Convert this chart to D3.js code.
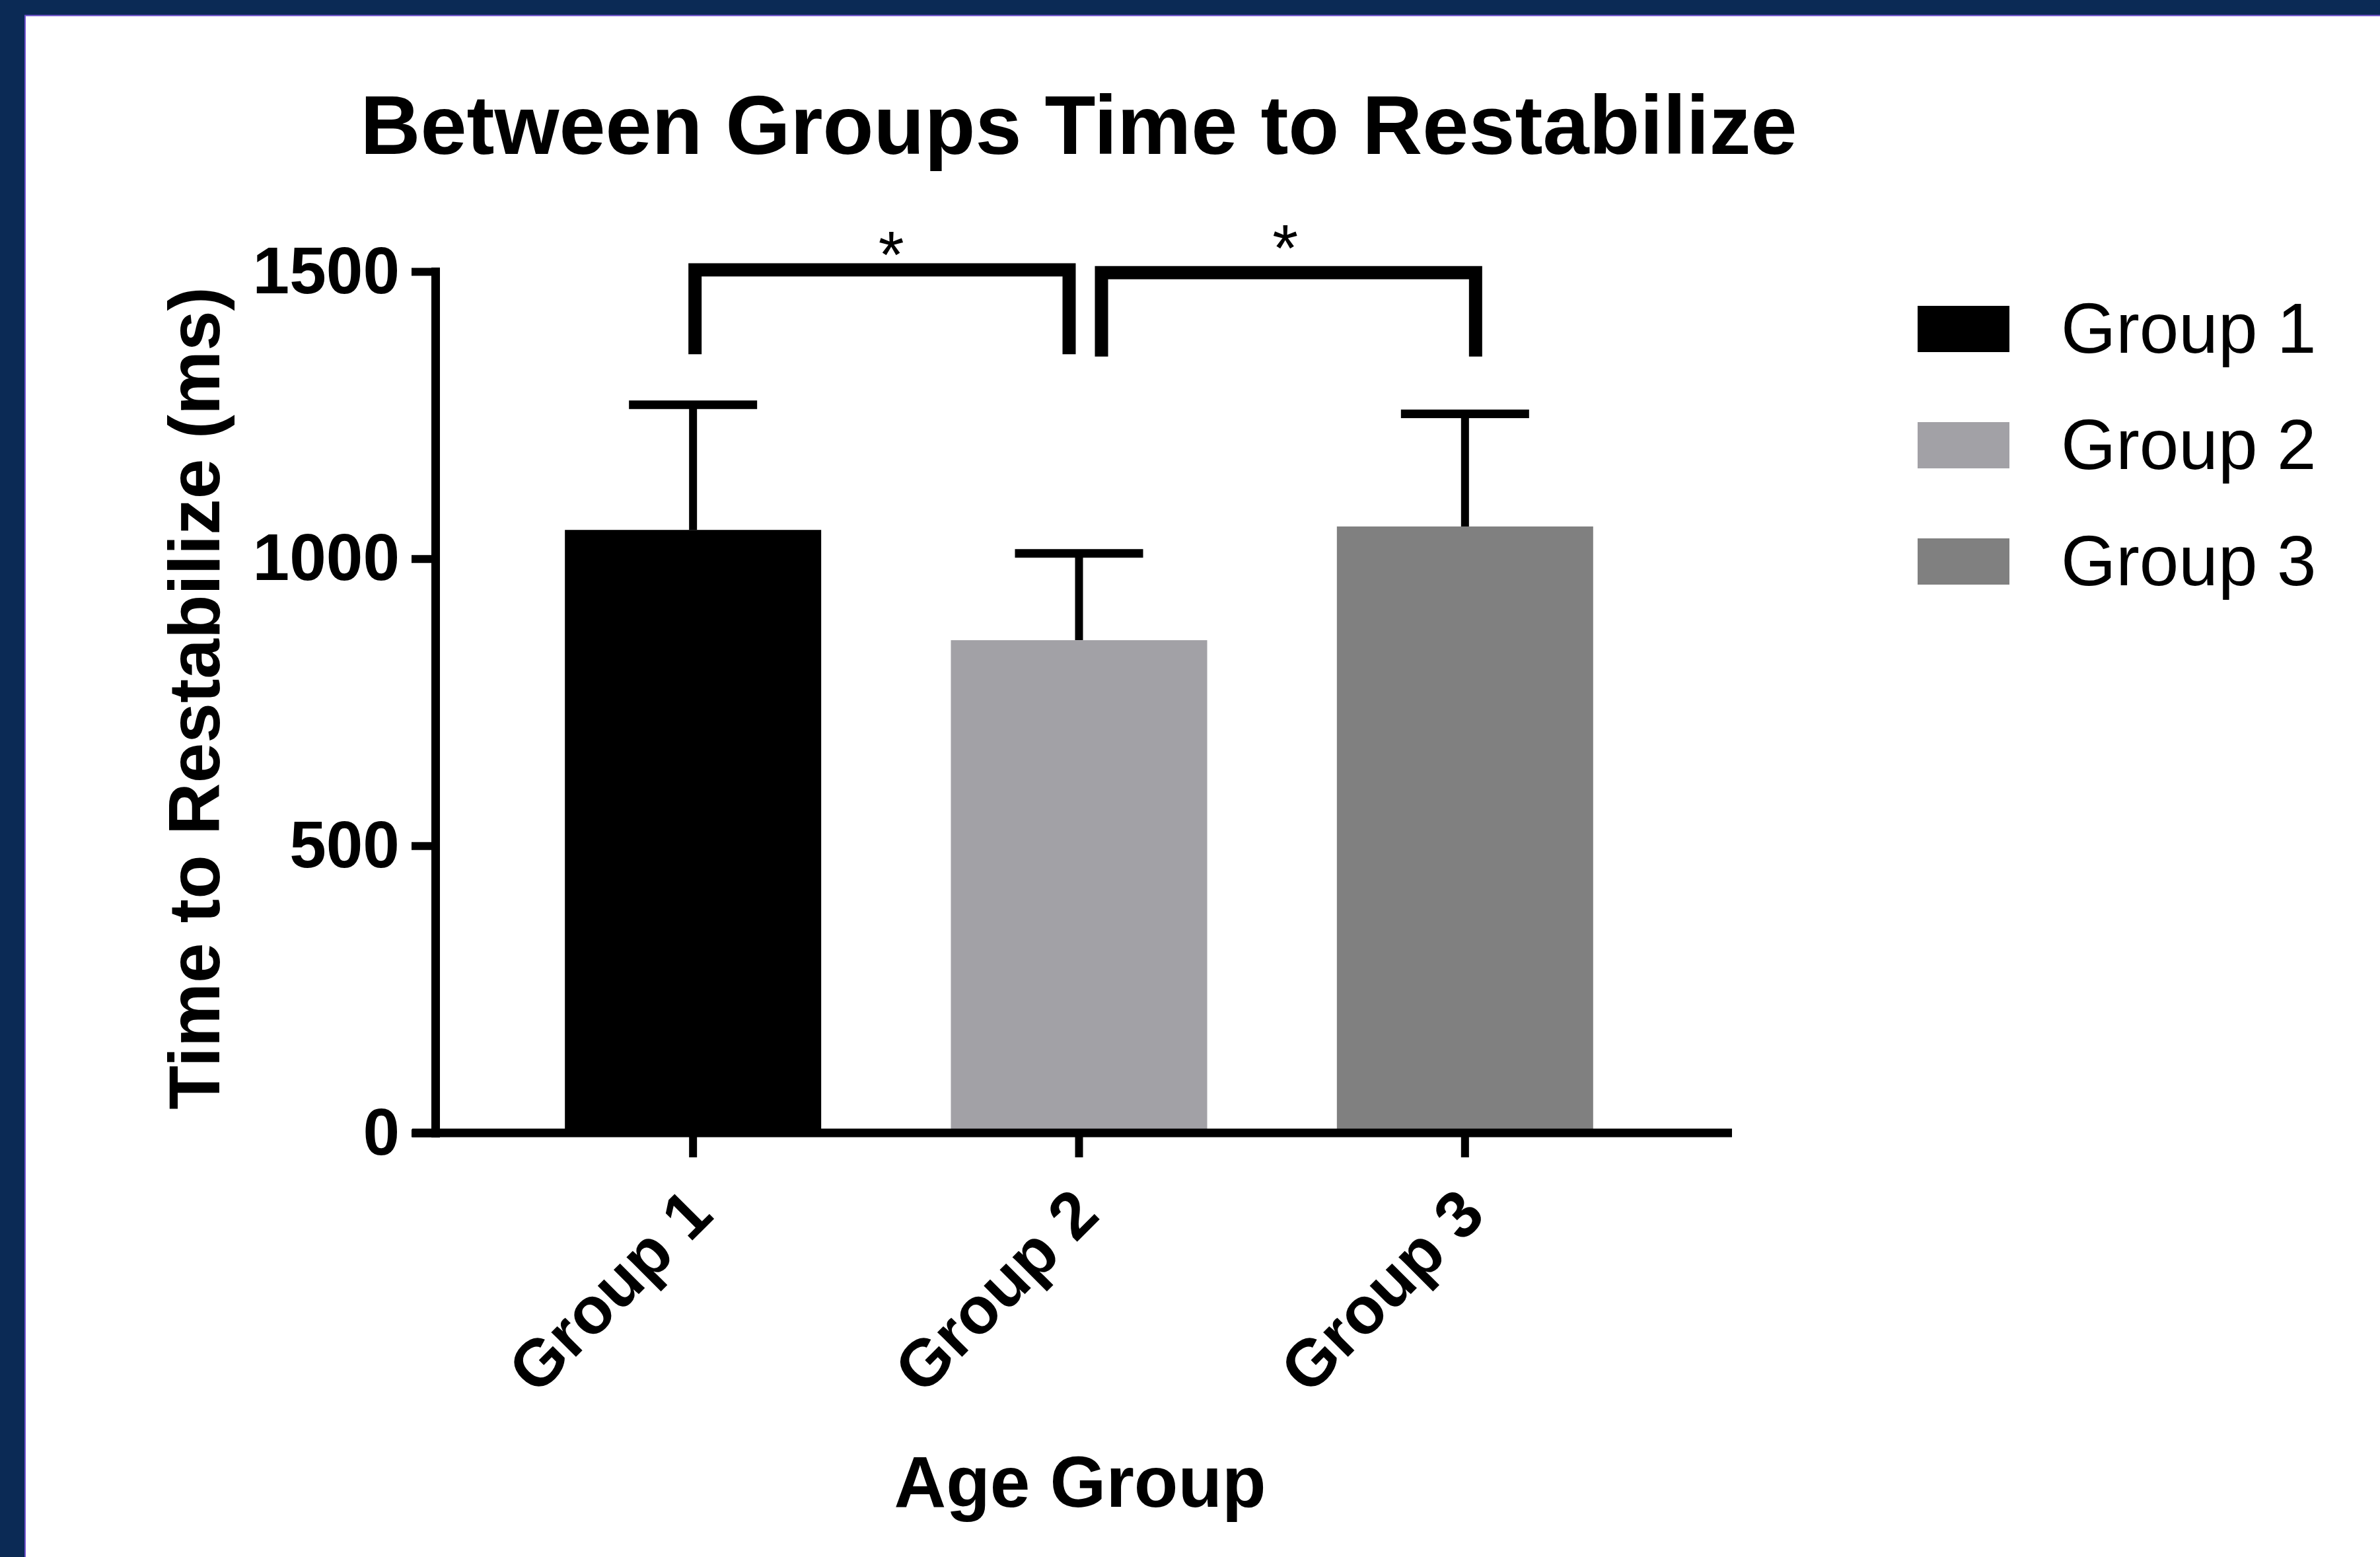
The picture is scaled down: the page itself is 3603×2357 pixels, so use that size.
<!DOCTYPE html>
<html>
<head>
<meta charset="utf-8">
<title>Between Groups Time to Restabilize</title>
<script src="https://cdn.jsdelivr.net/npm/d3@7"></script>
<style>
  body { margin: 0; background: #fff; }
  svg { display: block; font-family: "Liberation Sans", Arial, Helvetica, sans-serif; }
</style>
</head>
<body>
<svg id="chart" width="3603" height="2357"></svg>
<script>
'use strict';

// values
const groups = ["Group 1", "Group 2", "Group 3"];
const means = [1050, 858, 1056];
const errors = [218, 151, 196];
const barColors = ["#000000", "#a2a1a6", "#808080"];
const yTicks = [0, 500, 1000, 1500];
const comparisons = [
    ["Group 1", "Group 2", "*"],
    ["Group 2", "Group 3", "*"]
];

let svg = d3.select("#chart");
let width = +svg.attr("width"),
    height = +svg.attr("height");

// frame
svg.append("rect").attr("width", width).attr("height", height).attr("fill", "#0b2a55");
svg.append("rect").attr("x", 38).attr("y", 23).attr("width", width - 38).attr("height", height - 23).attr("fill", "#fff");
svg.append("path")
    .attr("d", "M38," + height + "V23.5H" + width)
    .attr("fill", "none")
    .attr("stroke", "#7050d0")
    .attr("stroke-width", 2);

let data = groups.map(function(g, i) {
    return { group: g, mean: means[i], err: errors[i], color: barColors[i] };
});

let x = d3.scaleBand()
    .domain(groups)
    .range([757, 2510])
    .paddingInner(0.336)
    .paddingOuter(0.168);

let y = d3.scaleLinear()
    .domain([0, 1500])
    .range([1715, 411]);

let cx = function(g) { return x(g) + x.bandwidth() / 2; };

// bars
svg.append("g")
    .selectAll("rect")
    .data(data)
    .enter().append("rect")
    .attr("x", function(d) { return x(d.group); })
    .attr("y", function(d) { return y(d.mean); })
    .attr("width", x.bandwidth())
    .attr("height", function(d) { return y(0) - y(d.mean); })
    .attr("fill", function(d) { return d.color; });

// error bars (upper only)
let err = svg.append("g").attr("stroke", "#000");
err.selectAll("line.stem")
    .data(data)
    .enter().append("line")
    .attr("class", "stem")
    .attr("x1", function(d) { return cx(d.group); })
    .attr("x2", function(d) { return cx(d.group); })
    .attr("y1", function(d) { return y(d.mean); })
    .attr("y2", function(d) { return y(d.mean + d.err); })
    .attr("stroke-width", 12);
err.selectAll("line.cap")
    .data(data)
    .enter().append("line")
    .attr("class", "cap")
    .attr("x1", function(d) { return cx(d.group) - x.bandwidth() / 4; })
    .attr("x2", function(d) { return cx(d.group) + x.bandwidth() / 4; })
    .attr("y1", function(d) { return y(d.mean + d.err); })
    .attr("y2", function(d) { return y(d.mean + d.err); })
    .attr("stroke-width", 13);

// y axis
let yAxis = svg.append("g")
    .attr("transform", "translate(659,0)")
    .call(d3.axisLeft(y).tickValues(yTicks).tickFormat(d3.format("d"))
        .tickSize(36).tickSizeOuter(0).tickPadding(18));
yAxis.select(".domain").attr("stroke-width", 13).attr("stroke-linecap", "square");
yAxis.selectAll(".tick line").attr("stroke-width", 12);
yAxis.selectAll(".tick text")
    .attr("fill", "#000")
    .style("font-size", "100px")
    .style("font-weight", "bold")
    .style("font-family", "'Liberation Sans', Arial, sans-serif");

// x axis baseline
svg.append("line")
    .attr("x1", 624).attr("x2", 2622)
    .attr("y1", y(0)).attr("y2", y(0))
    .attr("stroke", "#000")
    .attr("stroke-width", 13);

let xAxis = svg.append("g")
    .attr("transform", "translate(0," + y(0) + ")")
    .call(d3.axisBottom(x).tickSize(37));
xAxis.select(".domain").remove();
xAxis.selectAll(".tick line").attr("stroke-width", 12);
xAxis.selectAll(".tick text")
    .attr("x", 0).attr("y", 0).attr("dy", 0)
    .attr("transform", "translate(34,128) rotate(-45)")
    .attr("fill", "#000")
    .style("text-anchor", "end")
    .style("font-size", "100px")
    .style("font-weight", "bold")
    .style("font-family", "'Liberation Sans', Arial, sans-serif");

// significance brackets
let bracketLayout = [
    { dx1: 3, dx2: -15, top: 1503, leg: 1356, label: 1490, ldx: 14 },
    { dx1: 34, dx2: 16, top: 1498, leg: 1352, label: 1501, ldx: -5 }
];
let brackets = svg.append("g");
comparisons.forEach(function(c, i) {
    let b = bracketLayout[i];
    let x1 = cx(c[0]) + b.dx1,
        x2 = cx(c[1]) + b.dx2;
    brackets.append("path")
        .attr("d", "M" + x1 + "," + y(b.leg) + "V" + y(b.top) + "H" + x2 + "V" + y(b.leg))
        .attr("fill", "none")
        .attr("stroke", "#000")
        .attr("stroke-width", 20);
    brackets.append("text")
        .attr("x", (x1 + x2) / 2 + b.ldx)
        .attr("y", y(b.label))
        .attr("text-anchor", "middle")
        .style("font-size", "100px")
        .text(c[2]);
});

// titles
svg.append("text")
    .attr("x", 1633).attr("y", 233)
    .attr("text-anchor", "middle")
    .style("font-size", "126px")
    .style("font-weight", "bold")
    .text("Between Groups Time to Restabilize");

svg.append("text")
    .attr("transform", "translate(332,1057) rotate(-90)")
    .attr("text-anchor", "middle")
    .style("font-size", "109px")
    .style("font-weight", "bold")
    .text("Time to Restabilize (ms)");

svg.append("text")
    .attr("x", 1635).attr("y", 2281)
    .attr("text-anchor", "middle")
    .style("font-size", "109px")
    .style("font-weight", "bold")
    .text("Age Group");

// legend
let legend = svg.append("g")
    .selectAll("g")
    .data(data)
    .enter().append("g")
    .attr("transform", function(d, i) { return "translate(2903," + (463 + i * 176) + ")"; });
legend.append("rect")
    .attr("width", 139)
    .attr("height", 70)
    .attr("fill", function(d) { return d.color; });
legend.append("text")
    .attr("x", 217)
    .attr("y", 71)
    .style("font-size", "107px")
    .text(function(d) { return d.group; });
</script>
</body>
</html>
